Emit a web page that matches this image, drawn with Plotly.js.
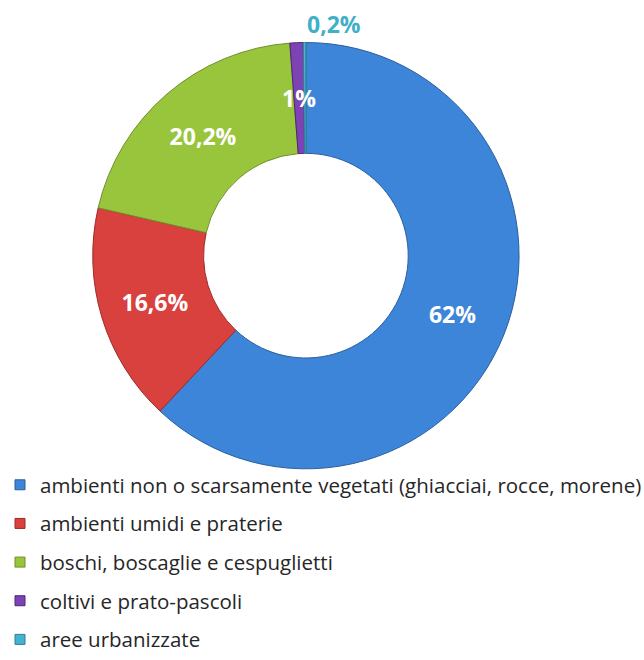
<!DOCTYPE html>
<html>
<head>
<meta charset="utf-8">
<script src="https://cdn.plot.ly/plotly-3.0.1.min.js"></script>
<style>html,body{margin:0;padding:0;background:#fff}</style>
</head>
<body>
<div id="gd" style="width:644px;height:660px"></div>
<script>
// uso del suolo - quote percentuali
let categories = [
  'ambienti non o scarsamente vegetati (ghiacciai, rocce, morene)',
  'ambienti umidi e praterie',
  'boschi, boscaglie e cespuglietti',
  'coltivi e prato-pascoli',
  'aree urbanizzate'
];
let shares = [62, 16.6, 20.2, 1, 0.2];
let shareLabels = ['62%', '16,6%', '20,2%', '1%', '0,2%'];
let labelPos = ['inside', 'inside', 'inside', 'none', 'none'];

let sliceColors = ['#3c85d8', '#d8413d', '#99c53d', '#7d42b4', '#45b3cf'];
let edgeColors = ['#2b5f9e', '#9e2b28', '#6e8f2c', '#4e2775', '#2f7f94'];

let W = 644, H = 660;
let domX = [0.135, 0.815];
let domY = [0.272, 0.934];
let hole = 0.48;

let donut = {
  type: 'pie',
  labels: categories,
  values: shares,
  text: shareLabels,
  textinfo: 'text',
  textposition: labelPos,
  insidetextorientation: 'horizontal',
  sort: false,
  direction: 'clockwise',
  rotation: 0,
  hole: hole,
  domain: {x: domX, y: domY},
  marker: {colors: sliceColors, line: {color: edgeColors, width: 1}},
  textfont: {family: 'Open Sans', size: 23, color: '#ffffff', weight: 'bold'},
  showlegend: false,
  hoverinfo: 'label+text'
};

// legenda: una voce per categoria, in gruppi separati per avere piu' spazio
let legendItems = categories.map(function (name, i) {
  return {
    type: 'scatter',
    mode: 'markers',
    x: [null],
    y: [null],
    name: name,
    legendgroup: 'g' + i,
    marker: {symbol: 'square', size: 10, color: sliceColors[i], line: {color: edgeColors[i], width: 1}},
    hoverinfo: 'skip'
  };
});

// geometria della ciambella, per le etichette delle fette sottili
let total = shares.reduce(function (a, b) { return a + b; }, 0);
let cx = (domX[0] + domX[1]) / 2 * W;
let cy = (1 - (domY[0] + domY[1]) / 2) * H;
let r = Math.min((domX[1] - domX[0]) * W, (domY[1] - domY[0]) * H) / 2;
let rm = r * (1 + hole) / 2;

function midAngle(i) {
  let before = shares.slice(0, i).reduce(function (a, b) { return a + b; }, 0);
  return 2 * Math.PI * (before + shares[i] / 2) / total;
}

let t1 = midAngle(3);
let t2 = midAngle(4);

let layout = {
  width: W,
  height: H,
  margin: {l: 0, r: 0, t: 0, b: 0},
  paper_bgcolor: '#ffffff',
  plot_bgcolor: '#ffffff',
  xaxis: {visible: false},
  yaxis: {visible: false},
  showlegend: true,
  legend: {
    x: 0,
    y: 0.278,
    xanchor: 'left',
    yanchor: 'top',
    bgcolor: 'rgba(0,0,0,0)',
    tracegroupgap: 9,
    font: {family: 'Open Sans', size: 20.5, color: '#262626'}
  },
  annotations: [{
    xref: 'paper',
    yref: 'paper',
    x: (cx + rm * Math.sin(t1)) / W,
    y: 1 - (cy - rm * Math.cos(t1)) / H,
    xanchor: 'center',
    yanchor: 'middle',
    text: shareLabels[3],
    showarrow: false,
    font: {family: 'Open Sans', size: 23, color: '#ffffff', weight: 'bold'}
  }, {
    xref: 'paper',
    yref: 'paper',
    x: (cx + r * Math.sin(t2)) / W,
    y: 1 - (cy - (r + 1) * Math.cos(t2)) / H,
    xanchor: 'left',
    yanchor: 'bottom',
    text: shareLabels[4],
    showarrow: false,
    font: {family: 'Open Sans', size: 23, color: '#3fb0c6', weight: 'bold'}
  }]
};

Plotly.newPlot('gd', [donut].concat(legendItems), layout, {displayModeBar: false, staticPlot: true});
</script>
</body>
</html>
